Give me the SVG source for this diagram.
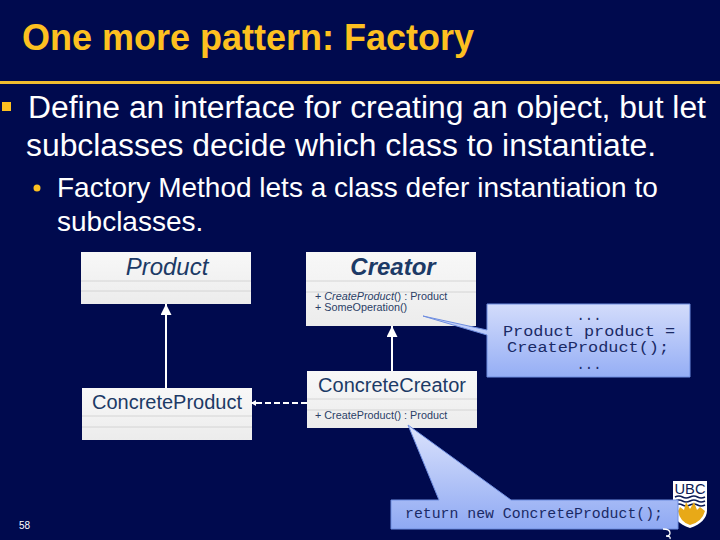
<svg xmlns="http://www.w3.org/2000/svg" width="720" height="540" viewBox="0 0 720 540">
<style>
text{font-family:"Liberation Sans",Arial,sans-serif}
.body{fill:#fff;font-size:31.850px}
.sub{fill:#fff;font-size:28px}
.box{fill:url(#cls);filter:url(#soft)}
.sep{stroke:#d4d4d4;stroke-width:1;fill:none}
.name{fill:#1c3a66;font-size:24px;text-anchor:middle}
.cname{fill:#1c3a66;font-size:20px;text-anchor:middle}
.op{fill:#2b4066;font-size:10.800px}
.code{fill:#1a2a66;font-family:"Liberation Mono","Courier New",monospace;font-size:14px;text-anchor:middle}
.note{fill:url(#nt);stroke:#6f8ee0;stroke-width:1}
.conn{stroke:#fff;stroke-width:2;fill:none}
</style>
<defs>
<linearGradient id="cls" x1="0" y1="0" x2="0" y2="1"><stop offset="0" stop-color="#f8f8f8"/><stop offset="1" stop-color="#ececec"/></linearGradient>
<linearGradient id="nt" gradientUnits="userSpaceOnUse" x1="0" y1="304" x2="0" y2="377"><stop offset="0" stop-color="#d3dcfb"/><stop offset="1" stop-color="#95aef5"/></linearGradient>
<linearGradient id="nt2" gradientUnits="userSpaceOnUse" x1="0" y1="428" x2="0" y2="529"><stop offset="0" stop-color="#d9e1fc"/><stop offset="1" stop-color="#8fa9f3"/></linearGradient>
<filter id="soft" x="-5%" y="-5%" width="110%" height="110%"><feGaussianBlur stdDeviation="0.4"/></filter>
<marker id="tri" markerUnits="userSpaceOnUse" markerWidth="12" markerHeight="12" refX="11" refY="5.500" orient="auto"><path d="M0 0L11 5.500L0 11Z" fill="#fff"/></marker>
<marker id="open" markerUnits="userSpaceOnUse" markerWidth="8" markerHeight="8" refX="6" refY="3.500" orient="auto"><path d="M6 3.500L1 0.500V6.500Z" fill="#fff"/></marker>
</defs>
<rect width="720" height="540" fill="#000a4e"/>
<g id="title">
<text x="22" y="50" font-size="36" font-weight="700" fill="#fdc020">One more pattern: Factory</text>
<rect x="0" y="81" width="720" height="3" fill="#f1bd2f"/>
</g>
<g id="bullets">
<rect x="2" y="102" width="9" height="9" fill="#fdc020"/>
<text class="body" x="28" y="118">Define an interface for creating an object, but let</text>
<text class="body" x="26" y="156">subclasses decide which class to instantiate.</text>
<circle cx="37" cy="188" r="3.500" fill="#fdc020"/>
<text class="sub" x="57" y="197">Factory Method lets a class defer instantiation to</text>
<text class="sub" x="57" y="231">subclasses.</text>
</g>
<g id="product">
<rect class="box" x="81" y="252" width="170" height="52"/>
<path class="sep" d="M81 281H251M81 291H251"/>
<text class="name" x="167" y="275" font-style="italic">Product</text>
</g>
<g id="creator">
<rect class="box" x="306" y="252" width="170" height="74"/>
<path class="sep" d="M306 281H476M306 292H476"/>
<text class="name" x="393" y="275" font-weight="700" font-style="italic">Creator</text>
<text class="op" x="315" y="300">+ <tspan font-style="italic">CreateProduct</tspan>() : Product</text>
<text class="op" x="315" y="311">+ SomeOperation()</text>
</g>
<g id="concrete-product">
<rect class="box" x="82" y="388" width="170" height="52"/>
<path class="sep" d="M82 416H252M82 427H252"/>
<text class="cname" x="167" y="409">ConcreteProduct</text>
</g>
<g id="concrete-creator">
<rect class="box" x="307" y="371" width="170" height="57"/>
<path class="sep" d="M307 399H477M307 410H477"/>
<text class="cname" x="392" y="392">ConcreteCreator</text>
<text class="op" x="315" y="419">+ CreateProduct() : Product</text>
</g>
<g id="connectors">
<path class="conn" d="M166 388V304" marker-end="url(#tri)"/>
<path class="conn" d="M392 371V326" marker-end="url(#tri)"/>
<path class="conn" stroke-dasharray="6 3" d="M307 403H251" marker-end="url(#open)"/>
</g>
<g id="ubc-logo">
<path d="M673 481H707V510Q707 522 690 528Q673 522 673 510Z" fill="#fff"/>
<text x="690" y="494" font-family="Liberation Serif,serif" font-size="15" fill="#0b1a55" text-anchor="middle" textLength="31" lengthAdjust="spacingAndGlyphs">UBC</text>
<path d="M675 497q4-2 7.500 0t7.500 0t7.500 0t7.500 0M675 501q4-2 7.500 0t7.500 0t7.500 0t7.500 0M675 505q4-2 7.500 0t7.500 0t7.500 0t7.500 0" stroke="#0b1a55" stroke-width="1.600" fill="none"/>
<path d="M678 511Q680 522 690 525Q702 522 705 511L700 507L697 510L694 502L690 509L686 502L684 510L680 507Z" fill="#e8a917"/>
</g>
<g id="note-create">
<path class="note" d="M487 304H690V377H487V335L423 316L487 330Z"/>
<text class="code" x="589" y="320" textLength="25" lengthAdjust="spacingAndGlyphs">...</text>
<text class="code" x="589" y="336" textLength="172" lengthAdjust="spacingAndGlyphs">Product product =</text>
<text class="code" x="588" y="352" textLength="162" lengthAdjust="spacingAndGlyphs">CreateProduct();</text>
<text class="code" x="589" y="369" textLength="25" lengthAdjust="spacingAndGlyphs">...</text>
</g>
<g id="note-return">
<path d="M391 500H439L408 425L511 500H678V529H391Z" fill="url(#nt2)" stroke="#6f8ee0" stroke-width="1"/>
<text class="code" x="534" y="518" textLength="258" lengthAdjust="spacingAndGlyphs">return new ConcreteProduct();</text>
</g>
<g id="footer">
<text x="19" y="529" font-size="10" fill="#fff">58</text>
<path d="M663 529Q670 529 670 533Q670 536 666 536Q671 536 670 539" stroke="#fff" stroke-width="1.300" fill="none"/>
</g>
</svg>
